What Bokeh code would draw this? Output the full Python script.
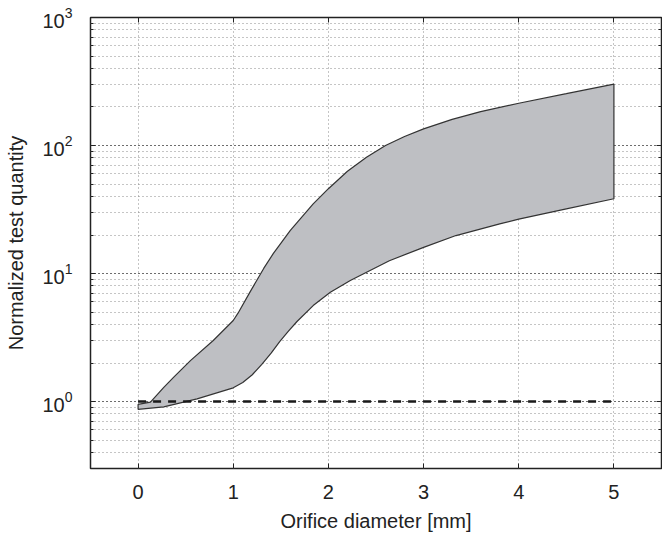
from bokeh.plotting import figure
from bokeh.models import LogAxis, LinearAxis, Range1d
from bokeh.embed import file_html
from bokeh.resources import INLINE

# Data
x_upper = [0, 0.13, 0.27, 0.375, 0.55, 0.79, 1.0, 1.05, 1.18, 1.32, 1.42, 1.6, 1.84,
           2.0, 2.2, 2.4, 2.6, 2.8, 3.0, 3.3, 3.6, 4.0, 4.5, 5.0]
y_upper = [0.95, 0.99, 1.29, 1.55, 2.09, 3.0, 4.3, 4.9, 7.25, 10.96, 14.3, 21.7, 35,
           46, 63, 81, 100, 117.5, 135, 160, 184, 214, 254, 302]
x_lower = [0, 0.27, 0.62, 1.0, 1.1, 1.2, 1.3, 1.4, 1.49, 1.58, 1.67, 1.84, 2.02, 2.23,
           2.64, 3.0, 3.34, 3.8, 4.0, 4.5, 5.0]
y_lower = [0.87, 0.91, 1.05, 1.28, 1.41, 1.62, 1.95, 2.4, 2.95, 3.55, 4.22, 5.62, 7.14, 8.82,
           12.6, 16, 19.8, 24.4, 26.6, 32, 38.4]
ref_x = [0, 5]
ref_y = [1, 1]
x_ticks = [0, 1, 2, 3, 4, 5]

FONT = "Liberation Sans"
FS = "20px"

p = figure(width=662, height=539, y_axis_type="log",
           x_range=Range1d(-0.5, 5.5), y_range=Range1d(0.3, 1000),
           output_backend="svg", toolbar_location=None,
           min_border_left=90, min_border_top=17, min_border_right=1, min_border_bottom=71)

p.background_fill_color = "white"
p.border_fill_color = "white"
p.outline_line_color = "#222222"
p.outline_line_width = 1.5

# band
band_x = list(x_upper) + list(reversed(x_lower))
band_y = list(y_upper) + list(reversed(y_lower))
p.patch(band_x, band_y, fill_color="#bebfc3", line_color="#333333", line_width=1.2)

# reference line
p.line(ref_x, ref_y, line_color="#1a1a1a", line_width=2.4, line_dash="8 7")

# grids
p.xgrid.ticker = x_ticks
p.xgrid.grid_line_color = "#8a8a8a"
p.xgrid.grid_line_dash = "1 3"
p.ygrid.grid_line_color = "#333333"
p.ygrid.grid_line_dash = "1 3"
p.ygrid.minor_grid_line_color = "#8a8a8a"
p.ygrid.minor_grid_line_dash = "1 3"

def style(ax, labels=True):
    ax.axis_line_color = None
    ax.major_tick_in = 5
    ax.major_tick_out = 0
    ax.minor_tick_in = 3
    ax.minor_tick_out = 0
    ax.major_tick_line_color = "#222222"
    ax.minor_tick_line_color = "#222222"
    ax.major_label_text_font = FONT
    ax.major_label_text_font_size = FS if labels else "1px"
    ax.major_label_text_color = "#222222"
    if not labels:
        ax.major_label_text_alpha = 0
    ax.axis_label_text_font = FONT
    ax.axis_label_text_font_size = FS
    ax.axis_label_text_font_style = "normal"
    ax.axis_label_text_color = "#222222"

xa = p.xaxis[0]
style(xa)
xa.ticker = x_ticks
xa.minor_tick_line_color = None
xa.axis_label = "Orifice diameter [mm]"
xa.major_label_standoff = 16
xa.axis_label_standoff = 8

ya = p.yaxis[0]
style(ya)
ya.axis_label = "Normalized test quantity"
ya.major_label_standoff = 18
ya.axis_label_standoff = 12

top = LinearAxis(ticker=x_ticks)
style(top, labels=False)
top.minor_tick_line_color = None
top.major_label_standoff = 0
p.add_layout(top, "above")

right = LogAxis()
style(right, labels=False)
right.major_label_standoff = 0
p.add_layout(right, "right")

open("out.html", "w").write(file_html(p, INLINE))
